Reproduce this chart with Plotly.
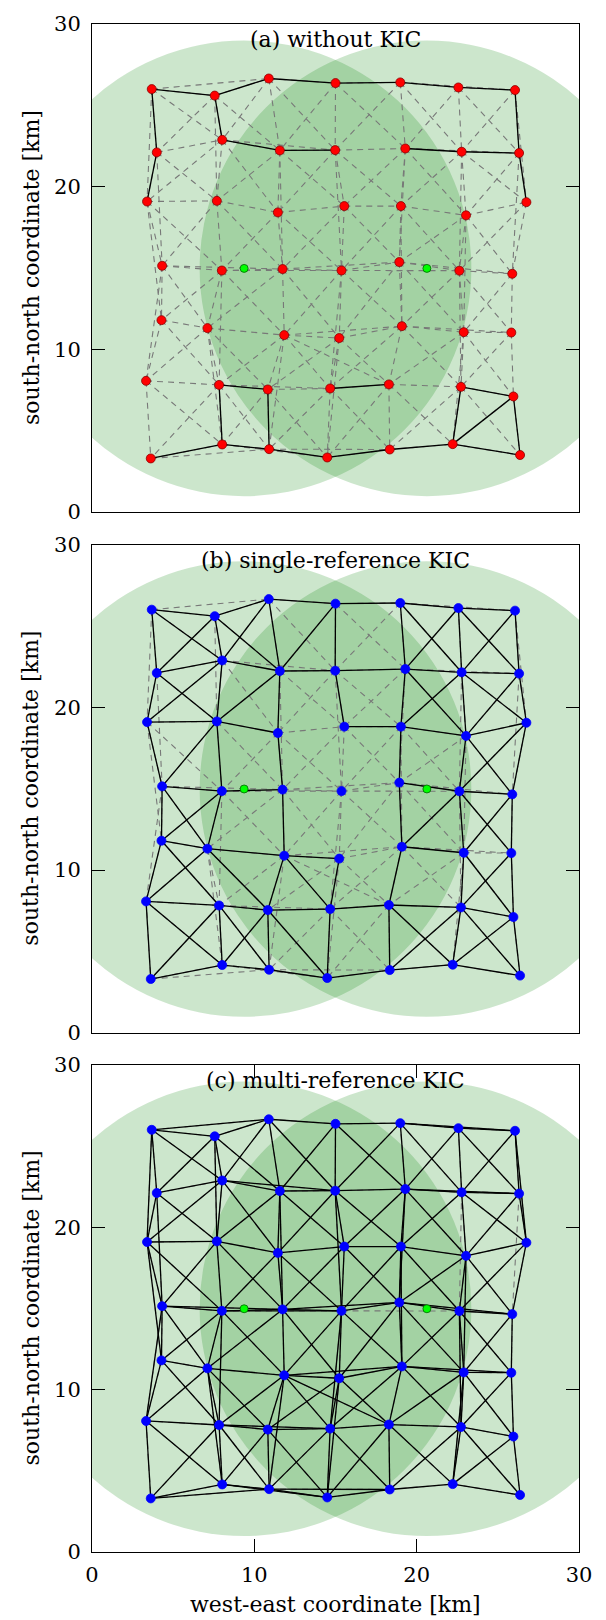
import plotly.graph_objects as go

# ---------------- data ----------------
# sensor node positions (row-major, 7 rows x 7 columns), km
NODE_X = [3.68, 7.56, 10.89, 15.00, 18.99, 22.57, 26.06,
          3.99, 8.02, 11.57, 14.98, 19.30, 22.77, 26.31,
          3.39, 7.69, 11.45, 15.54, 19.03, 23.04, 26.76,
          4.32, 8.00, 11.74, 15.37, 18.93, 22.63, 25.89,
          4.28, 7.11, 11.84, 15.23, 19.09, 22.90, 25.83,
          3.33, 7.83, 10.83, 14.67, 18.29, 22.73, 25.96,
          3.62, 8.02, 10.91, 14.49, 18.34, 22.22, 26.37]
NODE_Y = [26.00, 25.60, 26.65, 26.37, 26.41, 26.10, 25.94,
          22.11, 22.88, 22.23, 22.25, 22.35, 22.15, 22.07,
          19.09, 19.13, 18.42, 18.81, 18.81, 18.24, 19.05,
          15.14, 14.85, 14.94, 14.85, 15.37, 14.84, 14.65,
          11.80, 11.31, 10.88, 10.70, 11.43, 11.06, 11.04,
          8.07, 7.82, 7.54, 7.60, 7.85, 7.70, 7.11,
          3.30, 4.16, 3.87, 3.36, 3.85, 4.18, 3.51]

# reference (anchor) nodes and their coverage radius, km
ANCHOR_X = [9.37, 20.63]
ANCHOR_Y = [14.98, 14.98]
ANCHOR_RADIUS = 14.0

# communication range defining the (gray dashed) link graph, km
COMM_RANGE = 7.45

# links drawn solid black in each panel (node index pairs)
BLACK_A = [(0, 1), (1, 2), (2, 3), (3, 4), (4, 5), (5, 6),
           (0, 7), (7, 14), (1, 8), (8, 9), (9, 10), (11, 12), (12, 13),
           (6, 13), (13, 20),
           (36, 37), (36, 43), (37, 44), (38, 39), (40, 41), (40, 47),
           (41, 48), (41, 47),
           (42, 43), (43, 44), (44, 45), (45, 46), (46, 47), (47, 48)]

BLACK_B = [(0, 1), (1, 2), (2, 3), (3, 4), (4, 5), (5, 6),
           (0, 7), (1, 8), (2, 9), (3, 10), (4, 11), (5, 12), (6, 13),
           (0, 8), (1, 7), (1, 9), (2, 8), (3, 9), (4, 12), (5, 11), (5, 13), (6, 12),
           (7, 8), (8, 9), (9, 10), (10, 11), (11, 12), (12, 13),
           (7, 14), (8, 15), (9, 16), (10, 17), (11, 18), (12, 19), (13, 20),
           (7, 15), (8, 14), (9, 15), (11, 19), (12, 18), (12, 20), (13, 19),
           (14, 15), (15, 16), (17, 18), (18, 19), (19, 20),
           (14, 21), (15, 22), (16, 23), (18, 25), (19, 26), (20, 27),
           (15, 21), (19, 27), (20, 26),
           (21, 22), (22, 23), (25, 26), (26, 27),
           (21, 28), (22, 29), (23, 30), (25, 32), (26, 33), (27, 34),
           (21, 29), (22, 28), (26, 32), (26, 34), (27, 33),
           (28, 29), (29, 30), (30, 31), (32, 33),
           (28, 35), (30, 37), (31, 38), (32, 39), (33, 40), (34, 41),
           (28, 36), (29, 35), (29, 37), (30, 38), (33, 41), (34, 40),
           (35, 36), (36, 37), (37, 38), (38, 39), (39, 40), (40, 41),
           (35, 42), (36, 43), (37, 44), (38, 45), (39, 46), (40, 47), (41, 48),
           (35, 43), (36, 42), (36, 44), (37, 43), (37, 45), (39, 47), (40, 46),
           (40, 48), (41, 47),
           (42, 43), (43, 44), (44, 45), (45, 46), (46, 47), (47, 48)]

# in panel (c) every link is black except these
GRAY_ONLY_C = [(13, 27), (12, 26), (24, 26)]

TITLES = ["(a) without KIC", "(b) single-reference KIC", "(c) multi-reference KIC"]
NODE_COLORS = ["#ff0000", "#0000ff", "#0000ff"]
NODE_LINES = ["#8b0000", "#0000ff", "#0000ff"]
TICKS = [0, 10, 20, 30]
X_LABEL = "west-east coordinate [km]"
Y_LABEL = "south-north coordinate [km]"

# ---------------- derived link graph ----------------
n = len(NODE_X)
ALL_LINKS = []
for i in range(n):
    for j in range(i + 1, n):
        d = ((NODE_X[i] - NODE_X[j]) ** 2 + (NODE_Y[i] - NODE_Y[j]) ** 2) ** 0.5
        if d <= COMM_RANGE:
            ALL_LINKS.append((i, j))
gray_c = set(tuple(sorted(p)) for p in GRAY_ONLY_C)
BLACK_C = [p for p in ALL_LINKS if p not in gray_c]
BLACK = [BLACK_A, BLACK_B, BLACK_C]


def seg_xy(pairs):
    xs, ys = [], []
    for i, j in pairs:
        xs += [NODE_X[i], NODE_X[j], None]
        ys += [NODE_Y[i], NODE_Y[j], None]
    return xs, ys


FONT = "DejaVu Serif"
W, H = 606, 1620
ML, MR, MT, MB = 92, 27, 16, 68
PH = H - MT - MB
DOMAINS = [[(1552 - 506.7) / PH, 1.0],
           [(1552 - 1030) / PH, (1552 - 539.3) / PH],
           [0.0, (1552 - 1062.3) / PH]]

fig = go.Figure()
shapes = []
annotations = []
layout = {}
for k in range(3):
    sfx = "" if k == 0 else str(k + 1)
    xr, yr = "x" + sfx, "y" + sfx
    gx, gy = seg_xy(ALL_LINKS)
    fig.add_trace(go.Scatter(x=gx, y=gy, mode="lines", xaxis=xr, yaxis=yr,
                             line=dict(color="rgb(120,120,120)", width=1.1, dash="6px,5px"),
                             hoverinfo="skip", showlegend=False))
    bx, by = seg_xy(BLACK[k])
    fig.add_trace(go.Scatter(x=bx, y=by, mode="lines", xaxis=xr, yaxis=yr,
                             line=dict(color="black", width=1.3),
                             hoverinfo="skip", showlegend=False))
    fig.add_trace(go.Scatter(x=NODE_X, y=NODE_Y, mode="markers", xaxis=xr, yaxis=yr,
                             marker=dict(color=NODE_COLORS[k], size=9,
                                         line=dict(color=NODE_LINES[k], width=0.8)),
                             showlegend=False))
    fig.add_trace(go.Scatter(x=ANCHOR_X, y=ANCHOR_Y, mode="markers", xaxis=xr, yaxis=yr,
                             marker=dict(color="#00ff00", size=8,
                                         line=dict(color="#006400", width=0.8)),
                             showlegend=False))
    for ax_, ay_ in zip(ANCHOR_X, ANCHOR_Y):
        shapes.append(dict(type="circle", xref=xr, yref=yr, layer="below",
                           x0=ax_ - ANCHOR_RADIUS, x1=ax_ + ANCHOR_RADIUS,
                           y0=ay_ - ANCHOR_RADIUS, y1=ay_ + ANCHOR_RADIUS,
                           fillcolor="rgba(0,128,0,0.2)", line=dict(width=0)))
    annotations.append(dict(text=TITLES[k], xref=xr, yref=yr, x=15, y=29.05,
                            showarrow=False, xanchor="center", yanchor="middle",
                            font=dict(family=FONT, size=22, color="black")))
    annotations.append(dict(text=Y_LABEL, xref="paper", yref="paper",
                            x=(31 - ML) / (W - ML - MR), y=sum(DOMAINS[k]) / 2,
                            textangle=-90, showarrow=False,
                            xanchor="center", yanchor="middle",
                            font=dict(family=FONT, size=22, color="black")))
    last = (k == 2)
    layout["xaxis" + sfx] = dict(
        domain=[0, 1], anchor=yr, range=[0, 30], tickvals=TICKS,
        showgrid=False, zeroline=False, showline=True, linecolor="black", linewidth=1,
        mirror="ticks" if last else True,
        ticks="inside" if last else "", ticklen=13, tickcolor="black", tickwidth=1,
        showticklabels=last, ticklabelstandoff=4,
        tickfont=dict(family=FONT, size=21, color="black"))
    layout["yaxis" + sfx] = dict(
        domain=DOMAINS[k], anchor=xr, range=[0, 30], tickvals=TICKS,
        showgrid=False, zeroline=False, showline=True, linecolor="black", linewidth=1,
        mirror="ticks", ticks="inside", ticklen=13, tickcolor="black", tickwidth=1,
        ticklabelstandoff=6,
        tickfont=dict(family=FONT, size=21, color="black"))

annotations.append(dict(text=X_LABEL, xref="paper", yref="paper",
                        x=0.5, y=(1552 - 1605) / PH, showarrow=False,
                        xanchor="center", yanchor="middle",
                        font=dict(family=FONT, size=22, color="black")))

fig.update_layout(width=W, height=H, margin=dict(l=ML, r=MR, t=MT, b=MB),
                  paper_bgcolor="white", plot_bgcolor="white",
                  shapes=shapes, annotations=annotations, **layout)

fig.write_html("out.html", config={"displayModeBar": False},
               post_script="document.body.style.margin='0';")
